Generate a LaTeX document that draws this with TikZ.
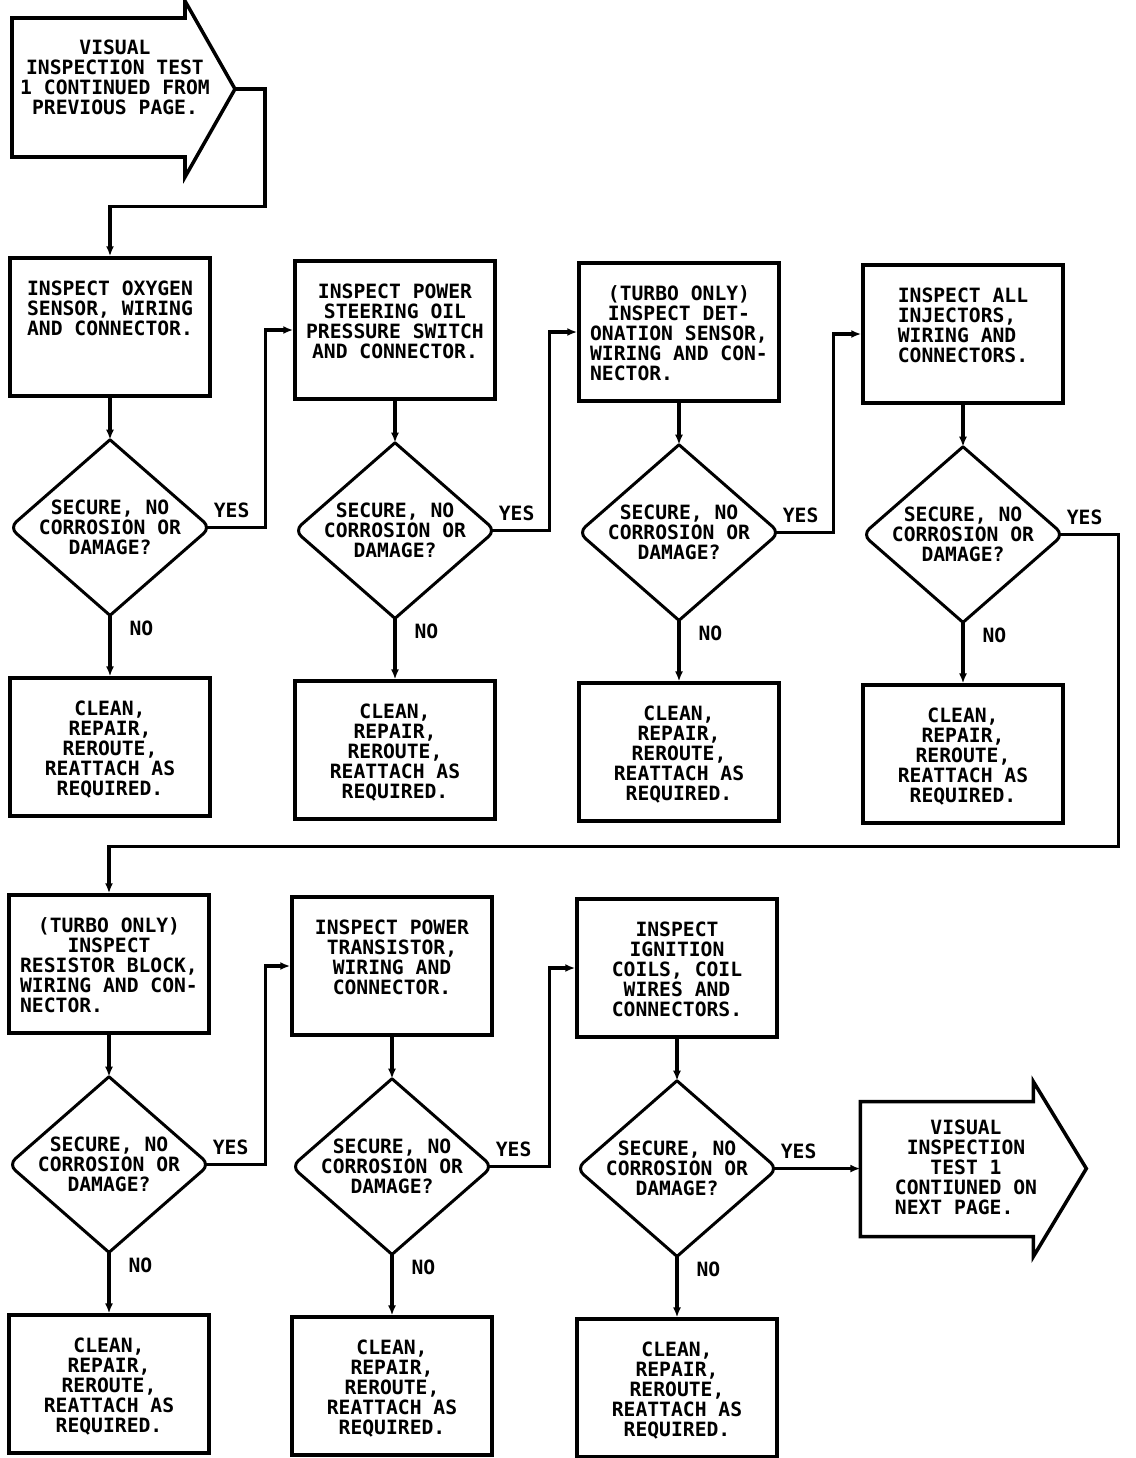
\documentclass[tikz,border=0pt]{standalone}
\usepackage{fontspec}
\setmainfont{DejaVu Sans Mono}
\usepackage{tikz}
\usetikzlibrary{arrows.meta,positioning,shapes.geometric}

\begin{document}
\begin{tikzpicture}[x=0.02cm,y=-0.02cm,
  font=\bfseries\fontsize{11.2pt}{11.4pt}\selectfont,
  flow/.style={line width=2pt,-{Latex[length=2mm,width=1.6mm]}},
  arrowbox/.style={line width=2pt,line join=miter},
  chkbox/.style={draw,line width=2pt,minimum width=4cm,text width=3.7cm,align=center,inner xsep=0pt,inner ysep=0pt,text height=0.74cm,text depth=2.02cm,
    execute at begin node={\spaceskip=\fontdimen2\font\relax}},
  askdiam/.style={diamond,aspect=1.143,minimum width=4cm,minimum height=3.5cm,inner xsep=-0.8cm,inner ysep=-0.4cm,align=center,
    append after command={\pgfextra{\draw[line width=1.7pt,rounded corners=5pt,line cap=round]
      (\tikzlastnode.north) -- (\tikzlastnode.west) -- (\tikzlastnode.south)
      (\tikzlastnode.north) -- (\tikzlastnode.east) -- (\tikzlastnode.south);}}},
  yeslbl/.style={anchor=south west,inner sep=1pt,yshift=0.13cm},
  nolbl/.style={anchor=north west,inner sep=1pt,xshift=0.32cm,yshift=-0.03cm}]
  \useasboundingbox (0,0) rectangle (1136,1458);

  % start arrow
  \coordinate (st) at (235,89);
  \draw[arrowbox] (12,18) -- (185,18) -- (185,1) -- (st) -- (185,177) -- (185,157) -- (12,157) -- cycle;
  \node[align=center] (from) at (115,77) {VISUAL\\INSPECTION TEST\\1 CONTINUED FROM\\PREVIOUS PAGE.};

  % first row
  \node[chkbox] (b1) at (110,327) {INSPECT OXYGEN\\SENSOR, WIRING\\AND CONNECTOR.};
  \node[askdiam, below=0.84cm of b1] (d1) {SECURE, NO\\CORROSION OR\\DAMAGE?};
  \node[chkbox, below=1.22cm of d1] (c1) {CLEAN,\\REPAIR,\\REROUTE,\\REATTACH AS\\REQUIRED.};

  \node[chkbox] (b2) at (395,330) {INSPECT POWER\\STEERING OIL\\PRESSURE SWITCH\\AND CONNECTOR.};
  \node[askdiam, below=0.84cm of b2] (d2) {SECURE, NO\\CORROSION OR\\DAMAGE?};
  \node[chkbox, below=1.22cm of d2] (c2) {CLEAN,\\REPAIR,\\REROUTE,\\REATTACH AS\\REQUIRED.};

  \node[chkbox] (b3) at (679,332) {(TURBO ONLY)\\INSPECT DET-\\ONATION SENSOR,\\WIRING AND CON-\\NECTOR.\phantom{XXXXXXXX}};
  \node[askdiam, below=0.84cm of b3] (d3) {SECURE, NO\\CORROSION OR\\DAMAGE?};
  \node[chkbox, below=1.22cm of d3] (c3) {CLEAN,\\REPAIR,\\REROUTE,\\REATTACH AS\\REQUIRED.};

  \node[chkbox] (b4) at (963,334) {INSPECT ALL\\INJECTORS,\phantom{X}\\WIRING AND\phantom{X}\\CONNECTORS.};
  \node[askdiam, below=0.84cm of b4] (d4) {SECURE, NO\\CORROSION OR\\DAMAGE?};
  \node[chkbox, below=1.22cm of d4] (c4) {CLEAN,\\REPAIR,\\REROUTE,\\REATTACH AS\\REQUIRED.};

  % second row
  \node[chkbox] (b5) at (109,964) {(TURBO ONLY)\\INSPECT\\RESISTOR BLOCK,\\WIRING AND CON-\\NECTOR.\phantom{XXXXXXXX}};
  \node[askdiam, below=0.84cm of b5] (d5) {SECURE, NO\\CORROSION OR\\DAMAGE?};
  \node[chkbox, below=1.22cm of d5] (c5) {CLEAN,\\REPAIR,\\REROUTE,\\REATTACH AS\\REQUIRED.};

  \node[chkbox] (b6) at (392,966) {INSPECT POWER\\TRANSISTOR,\\WIRING AND\\CONNECTOR.};
  \node[askdiam, below=0.84cm of b6] (d6) {SECURE, NO\\CORROSION OR\\DAMAGE?};
  \node[chkbox, below=1.22cm of d6] (c6) {CLEAN,\\REPAIR,\\REROUTE,\\REATTACH AS\\REQUIRED.};

  \node[chkbox] (b7) at (677,968) {INSPECT\\IGNITION\\COILS, COIL\\WIRES AND\\CONNECTORS.};
  \node[askdiam, below=0.84cm of b7] (d7) {SECURE, NO\\CORROSION OR\\DAMAGE?};
  \node[chkbox, below=1.22cm of d7] (c7) {CLEAN,\\REPAIR,\\REROUTE,\\REATTACH AS\\REQUIRED.};

  % end arrow
  \path (d7.east) ++(83,0) coordinate (en);
  \draw[arrowbox] (en) -- ++(0,-67) -- ++(173,0) -- ++(0,-20) -- ++(53,87) -- ++(-53,88) -- ++(0,-20) -- ++(-173,0) -- cycle;
  \node[align=center] (onward) at (966,1167) {VISUAL\\INSPECTION\\TEST 1\\CONTIUNED ON\\NEXT PAGE.\phantom{XX}};

  % connectors
  \draw[flow] (st) -- ++(30,0) |- ([yshift=1cm]b1.north) -- (b1.north);
  \draw[flow] (b1) -- (d1);
  \draw[flow] (d1.south) node[nolbl] (n1) {NO} -- (c1.north);
  \draw[flow,shorten <=-2.5pt] (d1.east) node[yeslbl] (y1) {YES} -- ++(55,0) |- (b2.west);
  \draw[flow] (b2) -- (d2);
  \draw[flow] (d2.south) node[nolbl] (n2) {NO} -- (c2.north);
  \draw[flow,shorten <=-2.5pt] (d2.east) node[yeslbl] (y2) {YES} -- ++(54,0) |- (b3.west);
  \draw[flow] (b3) -- (d3);
  \draw[flow] (d3.south) node[nolbl] (n3) {NO} -- (c3.north);
  \draw[flow,shorten <=-2.5pt] (d3.east) node[yeslbl] (y3) {YES} -- ++(54,0) |- (b4.west);
  \draw[flow] (b4) -- (d4);
  \draw[flow] (d4.south) node[nolbl] (n4) {NO} -- (c4.north);
  \draw[flow,shorten <=-2.5pt] (d4.east) node[yeslbl] (y4) {YES} -- ++(55,0) |- ([yshift=0.94cm]b5.north) -- (b5.north);
  \draw[flow] (b5) -- (d5);
  \draw[flow] (d5.south) node[nolbl] (n5) {NO} -- (c5.north);
  \draw[flow,shorten <=-2.5pt] (d5.east) node[yeslbl] (y5) {YES} -- ++(56,0) |- (b6.west);
  \draw[flow] (b6) -- (d6);
  \draw[flow] (d6.south) node[nolbl] (n6) {NO} -- (c6.north);
  \draw[flow,shorten <=-2.5pt] (d6.east) node[yeslbl] (y6) {YES} -- ++(57,0) |- (b7.west);
  \draw[flow] (b7) -- (d7);
  \draw[flow] (d7.south) node[nolbl] (n7) {NO} -- (c7.north);
  \draw[flow,shorten <=-2.5pt] (d7.east) node[yeslbl] (y7) {YES} -- (en);
\end{tikzpicture}
\end{document}
